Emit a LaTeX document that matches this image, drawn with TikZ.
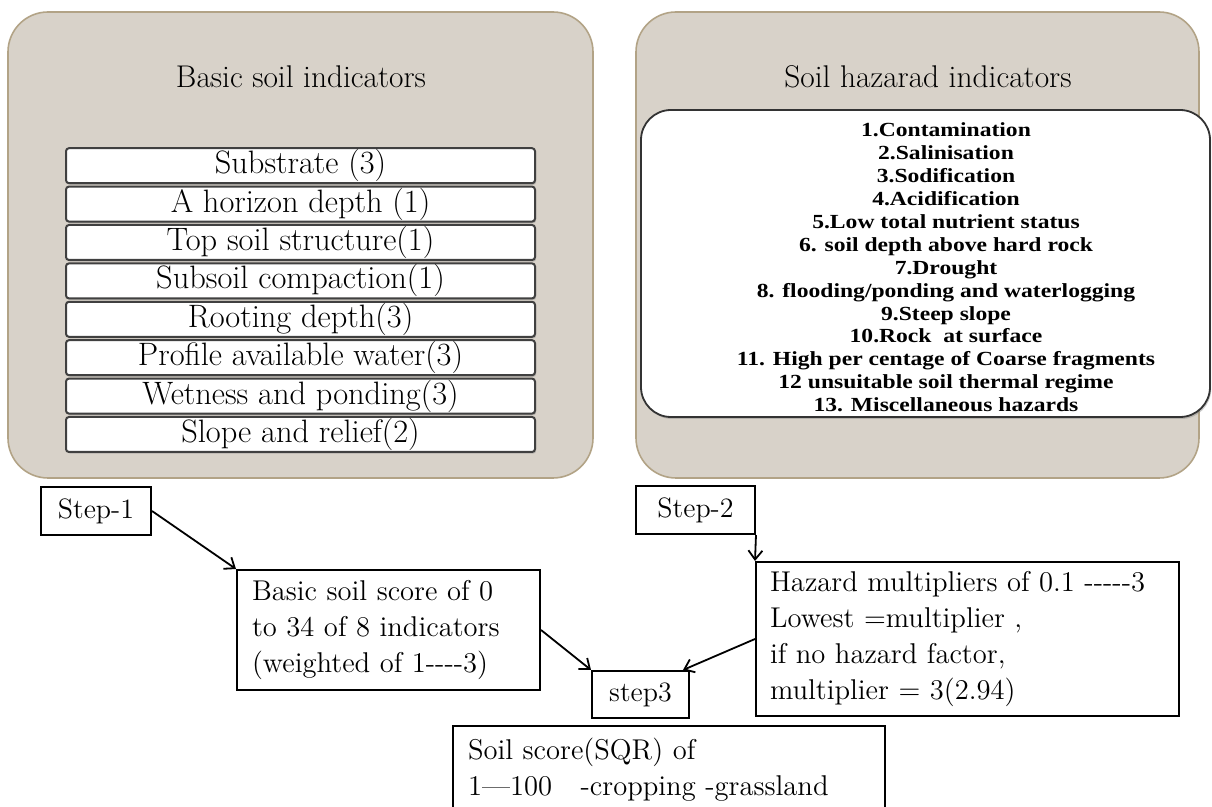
\documentclass[tikz,border=0pt]{standalone}
\usepackage{fontspec}
\newfontfamily\listfont[FakeStretch=1.18]{Liberation Serif}
\usetikzlibrary{positioning,shadows,arrows.meta}

\definecolor{panelfill}{RGB}{216,210,201}
\definecolor{panelline}{RGB}{178,163,134}
\newcommand{\hy}{-\kern0pt}

\tikzset{
  panel/.style={draw=panelline, fill=panelfill, line width=0.8pt, rounded corners=20pt},
  paneltitle/.style={font=\fontsize{15.7}{18}\selectfont},
  indbox/.style={draw=black!75, fill=white, line width=1pt, rounded corners=1.5pt,
    minimum width=234.5pt, minimum height=17.5pt, inner sep=0pt,
    font=\fontsize{16.2}{18}\selectfont,
    drop shadow={shadow xshift=0.6pt, shadow yshift=-0.8pt, opacity=0.4}},
  listbox/.style={draw=black!80, fill=white, line width=0.9pt, rounded corners=15pt,
    drop shadow={shadow xshift=0.6pt, shadow yshift=-1pt, opacity=0.4}},
  listtext/.style={align=center, font=\listfont\bfseries\fontsize{10}{11.45}\selectfont},
  stepbox/.style={draw, line width=1pt, inner sep=0pt, font=\fontsize{14}{16}\selectfont},
  textbox/.style={draw, line width=1pt, align=left, inner xsep=7.5pt,
    font=\fontsize{14.3}{18}\selectfont},
  flow/.style={-{Straight Barb[length=4.5pt,width=7pt]}, line width=0.9pt}
}

\begin{document}
\begin{tikzpicture}[x=0.5pt,y=-0.5pt]
\clip (0,0) rectangle (1212,807);

% the two panels
\draw[panel] (8,12) rectangle (593,478);
\draw[panel] (636,12) rectangle (1199,478);
\node[paneltitle] (basictitle) at (301,77) {Basic soil indicators};
\node[paneltitle] (hazardtitle) at (928,77) {Soil hazarad indicators};

% basic indicators
\foreach \txt [count=\i from 0] in {Substrate (3), A horizon depth (1),
    Top soil structure(1), Subsoil compaction(1), Rooting depth(3),
    Profile available water(3), Wetness and ponding(3), Slope and relief(2)}
  \node[indbox] (ind\i) at (300.5,{165.7+38.4*\i}) {\txt};

% hazard indicators
\draw[listbox] (641,110) rectangle (1210,417);
\node[listtext] (hazlist) at (946,267.5) {1.Contamination\\2.Salinisation\\3.Sodification\\
  4.Acidification\\5.Low total nutrient status\\6. soil depth above hard rock\\
  7.Drought\\8. flooding/ponding and waterlogging\\9.Steep slope\\10.Rock\ \ at surface\\
  11. High per centage of Coarse fragments\\12 unsuitable soil thermal regime\\
  13. Miscellaneous hazards};

% steps
\node[stepbox, minimum width=55pt, minimum height=24pt] (step1) at (96,511) {Step-1};
\node[textbox, anchor=north west, text width=136.5pt, minimum height=60pt] (basic) at (236,569)
  {Basic soil score of 0\\to 34 of 8 indicators\\(weighted of 1\hy\hy\hy-3)};
\node[stepbox, minimum width=59.5pt, minimum height=24pt] (step2) at (695.5,510) {Step-2};
\node[textbox, anchor=north west, text width=197.5pt, inner xsep=7pt, minimum height=77pt] (hazard) at (755,561)
  {Hazard multipliers of 0.1 \hy\hy\hy\hy-3\\Lowest =multiplier ,\\if no hazard factor,\\multiplier = 3(2.94)};
\node[stepbox, minimum width=48.5pt, minimum height=23.5pt] (step3) at (640.5,694.5) {step3};
\node[textbox, anchor=north west, text width=201pt, inner ysep=6pt, text depth=40pt] (sqr) at (452,725)
  {Soil score(SQR) of\\1—100\quad -cropping -grassland};

% arrows
\draw[flow] (step1.east) -- (basic.north west);
\draw[flow] (step2.south east) -- (hazard.north west);
\draw[flow] (basic.east) -- (step3.north west);
\draw[flow] (hazard.west) -- ([xshift=-3.5pt]step3.north east);
\end{tikzpicture}
\end{document}
